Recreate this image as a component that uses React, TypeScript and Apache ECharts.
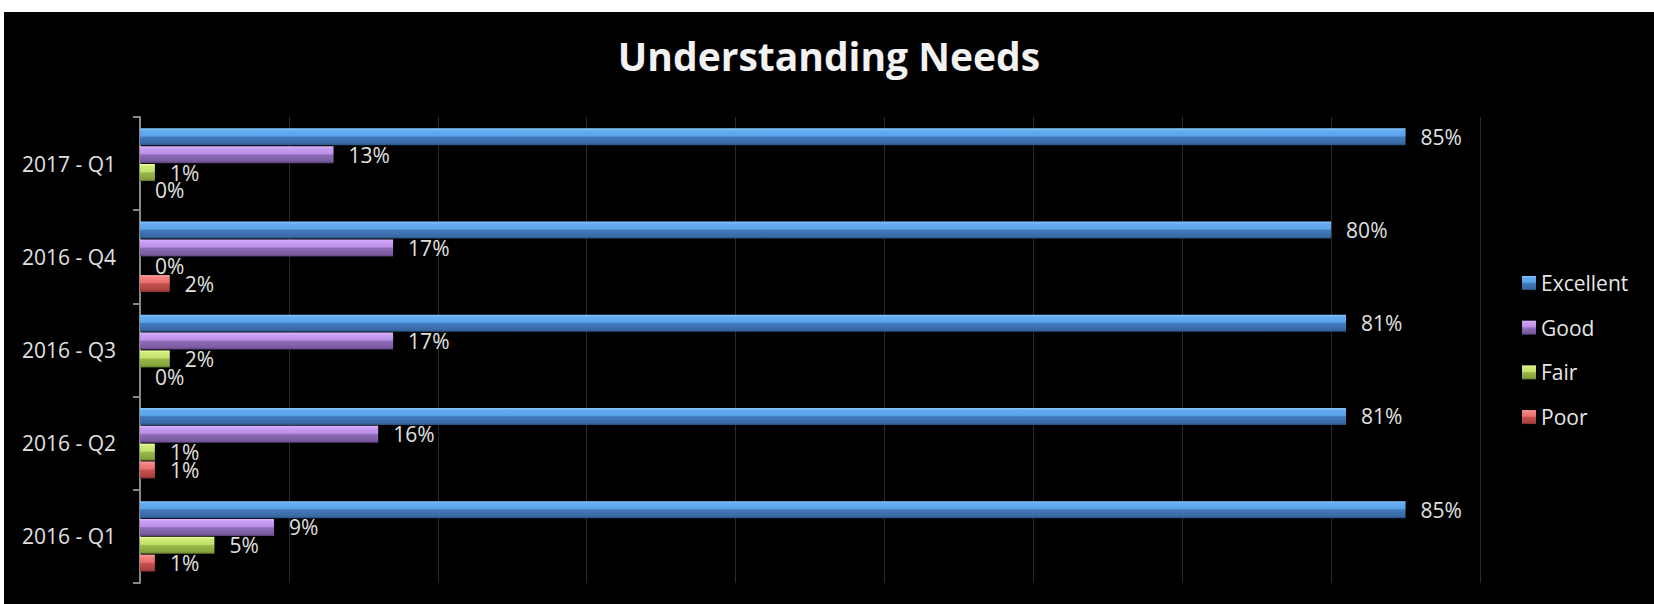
import React, { useEffect, useRef } from "react";
import * as echarts from "echarts";

const categories = ["2016 - Q1", "2016 - Q2", "2016 - Q3", "2016 - Q4", "2017 - Q1"];
const seriesNames = ["Excellent", "Good", "Fair", "Poor"];
const excellent = [85, 81, 81, 80, 85];
const good = [9, 16, 17, 17, 13];
const fair = [5, 1, 2, 0, 1];
const poor = [1, 1, 0, 2, 0];
const titleText = "Understanding Needs";

const palettes: string[][] = [
  ["#8cc8fb", "#63acf1", "#5aa3ea", "#4279bd", "#3a6aa6", "#27507f"],
  ["#e0b8ff", "#c99ff3", "#bb90e8", "#8e6cb8", "#7a5b9f", "#574076"],
  ["#ecffa0", "#d0ea7a", "#c2e06a", "#98b84a", "#86a33e", "#62792b"],
  ["#ffa5a5", "#f28280", "#ea6f6c", "#c4514e", "#ab4340", "#7c2d2b"],
];

function grad(p: string[]) {
  return new echarts.graphic.LinearGradient(0, 0, 0, 1, [
    { offset: 0, color: p[0] },
    { offset: 0.14, color: p[1] },
    { offset: 0.44, color: p[2] },
    { offset: 0.52, color: p[3] },
    { offset: 0.88, color: p[4] },
    { offset: 1, color: p[5] },
  ]);
}

const FONT = "'Open Sans', 'Noto Sans', sans-serif";

export default function App() {
  const ref = useRef<HTMLDivElement>(null);
  useEffect(() => {
    if (!ref.current) return;
    const chart = echarts.init(ref.current, undefined, { renderer: "svg" });
    const dataSets = [excellent, good, fair, poor];
    chart.setOption({
      animation: false,
      backgroundColor: "#000000",
      title: {
        text: titleText,
        left: "center",
        top: 18,
        textStyle: {
          color: "#f2f2f2",
          fontFamily: FONT,
          fontWeight: "bold",
          fontSize: 39,
          lineHeight: 40,
        },
      },
      legend: {
        orient: "vertical",
        left: 1513,
        top: 255,
        itemWidth: 14,
        itemHeight: 14,
        itemGap: 22.7,
        icon: "rect",
        data: seriesNames,
        textStyle: {
          color: "#e6e6e6",
          fontFamily: FONT,
          fontSize: 21,
          lineHeight: 22,
        },
      },
      grid: { left: 136, top: 105, width: 1340, height: 466, containLabel: false },
      xAxis: {
        type: "value",
        min: 0,
        max: 90,
        interval: 10,
        axisLabel: { show: false },
        axisLine: { show: false },
        axisTick: { show: false },
        splitLine: { show: true, lineStyle: { color: "#2a2a2a", width: 1 } },
      },
      yAxis: {
        type: "category",
        data: categories,
        axisLine: { show: true, lineStyle: { color: "#888888", width: 2 } },
        axisTick: { show: true, length: 7, lineStyle: { color: "#888888", width: 2 } },
        axisLabel: {
          color: "#e0e0e0",
          fontFamily: FONT,
          fontSize: 21,
          margin: 24,
        },
        splitLine: { show: false },
      },
      series: seriesNames.map((name, i) => ({
        name,
        type: "bar",
        data: dataSets[i],
        barWidth: 17,
        barGap: "5%",
        itemStyle: { color: grad(palettes[i]) },
        label: {
          show: true,
          position: "right",
          distance: 15,
          formatter: "{c}%",
          color: "#e0e0e0",
          fontFamily: FONT,
          fontSize: 21,
        },
      })),
    });
    return () => chart.dispose();
  }, []);
  return (
    <div
      ref={ref}
      style={{ position: "absolute", left: 4, top: 12, width: 1650, height: 592 }}
    />
  );
}
